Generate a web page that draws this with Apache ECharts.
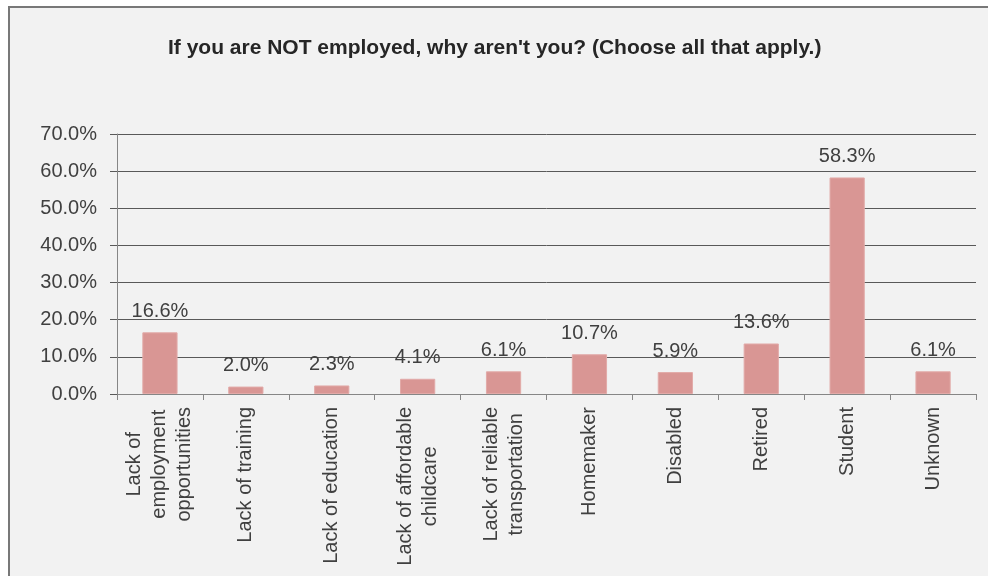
<!DOCTYPE html>
<html>
<head>
<meta charset="utf-8">
<style>
  html, body { margin: 0; padding: 0; background: #ffffff; }
  #chart { width: 988px; height: 576px; }
</style>
<script src="https://cdn.jsdelivr.net/npm/echarts@6/dist/echarts.min.js"></script>
</head>
<body>
<div id="chart"></div>
<script>
// Reasons given for not being employed (share of respondents, %)
const categories = [
  'Lack of\nemployment\nopportunities',
  'Lack of training',
  'Lack of education',
  'Lack of affordable\nchildcare',
  'Lack of reliable\ntransportation',
  'Homemaker',
  'Disabled',
  'Retired',
  'Student',
  'Unknown'
];
const shares = [16.6, 2.0, 2.3, 4.1, 6.1, 10.7, 5.9, 13.6, 58.3, 6.1];
const yTicks = { min: 0, max: 70, step: 10 };

const textColor = '#404040';
const labelFont = 'Liberation Sans, Arial, sans-serif';
const labelSize = 20;

const chart = echarts.init(document.getElementById('chart'));

chart.setOption({
  animation: false,
  backgroundColor: '#ffffff',
  graphic: [{
    type: 'rect',
    z: -10,
    silent: true,
    shape: { x: 9, y: 7, width: 1000, height: 600 },
    style: { fill: '#f2f2f2', stroke: '#787878', lineWidth: 2 }
  }],
  title: {
    text: "If you are NOT employed, why aren't you? (Choose all that apply.)",
    left: 163,
    top: 33,
    textStyle: {
      fontFamily: 'Liberation Sans Narrow, Liberation Sans, Arial, sans-serif',
      fontWeight: 'bold',
      fontSize: 21,
      color: '#262626'
    }
  },
  grid: { left: 117, right: 12, top: 134, bottom: 182, containLabel: false },
  xAxis: {
    type: 'category',
    data: categories,
    axisLine: { show: true, lineStyle: { color: '#868686', width: 1 } },
    axisTick: { show: true, alignWithLabel: false, length: 6, lineStyle: { color: '#868686' } },
    axisLabel: {
      rotate: 90,
      interval: 0,
      margin: 13,
      color: textColor,
      fontFamily: labelFont,
      fontSize: labelSize,
      lineHeight: 25,
      // each line centred within the label block
      formatter: function (v) {
        return v.split('\n').map(function (s) { return '{c|' + s + '}'; }).join('\n');
      },
      rich: {
        c: { align: 'center', color: textColor, fontFamily: labelFont, fontSize: labelSize, lineHeight: 25 }
      }
    }
  },
  yAxis: {
    type: 'value',
    min: yTicks.min,
    max: yTicks.max,
    interval: yTicks.step,
    axisLine: { show: true, lineStyle: { color: '#868686', width: 1 } },
    axisTick: { show: true, length: 7, lineStyle: { color: '#595959' } },
    splitLine: { show: true, lineStyle: { color: '#595959', width: 1 } },
    axisLabel: {
      margin: 20,
      color: textColor,
      fontFamily: labelFont,
      fontSize: labelSize,
      formatter: function (v) { return v.toFixed(1) + '%'; }
    }
  },
  series: [{
    type: 'bar',
    data: shares,
    barWidth: '41%',
    itemStyle: { color: '#d99694', borderColor: '#e2aaa8', borderWidth: 1 },
    label: {
      show: true,
      position: 'top',
      distance: 11,
      color: textColor,
      fontFamily: labelFont,
      fontSize: labelSize,
      formatter: function (p) { return p.value.toFixed(1) + '%'; }
    }
  }]
});
</script>
</body>
</html>
